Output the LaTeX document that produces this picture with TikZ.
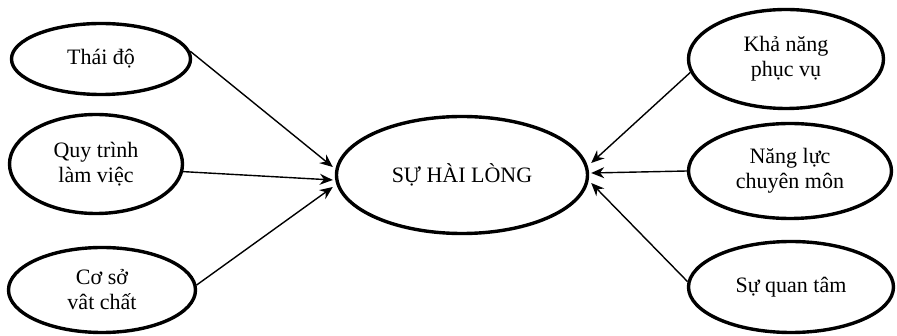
\documentclass[tikz,border=0pt]{standalone}
\usepackage{fontspec}
\setmainfont{Liberation Serif}
\usetikzlibrary{shapes.geometric,arrows.meta}
\begin{document}
\begin{tikzpicture}[x=1pt,y=-1pt,
  oval/.style={ellipse,draw,line width=3.4pt,inner sep=0pt,align=center,
    font=\fontsize{22}{25}\selectfont},
  link/.style={line width=1.4pt,-{Stealth[length=13pt,width=11pt]}}]
\useasboundingbox (0,0) rectangle (897,336);
\node[oval,minimum width=179pt,minimum height=71pt] (thai) at (101,59) {Thái độ};
\node[oval,minimum width=173pt,minimum height=99pt] (qt) at (96,164) {Quy trình\\làm việc};
\node[oval,minimum width=187pt,minimum height=85pt] (cs) at (102,290) {Cơ sở\\vât chất};
\node[oval,minimum width=251pt,minimum height=117pt] (hl) at (462,175) {SỰ HÀI LÒNG};
\node[oval,minimum width=195pt,minimum height=99pt] (kn) at (786,59) {Khả năng\\phục vụ};
\node[oval,minimum width=203pt,minimum height=95pt] (nl) at (790,171) {Năng lực\\chuyên môn};
\node[oval,minimum width=205pt,minimum height=91pt] (sq) at (791,287) {Sự quan tâm};
\draw[link] (thai.5) -- ([xshift=-2pt,yshift=8pt]hl.west);
\draw[link] (qt.-5) -- ([xshift=-2pt,yshift=-5pt]hl.west);
\draw[link] (cs.3) -- ([xshift=-2pt,yshift=-12pt]hl.west);
\draw[link] (kn.188) -- ([xshift=2pt,yshift=12pt]hl.east);
\draw[link] (nl.west) -- ([xshift=2pt,yshift=2pt]hl.east);
\draw[link] (sq.177) -- ([xshift=2pt,yshift=-8pt]hl.east);
\end{tikzpicture}
\end{document}
